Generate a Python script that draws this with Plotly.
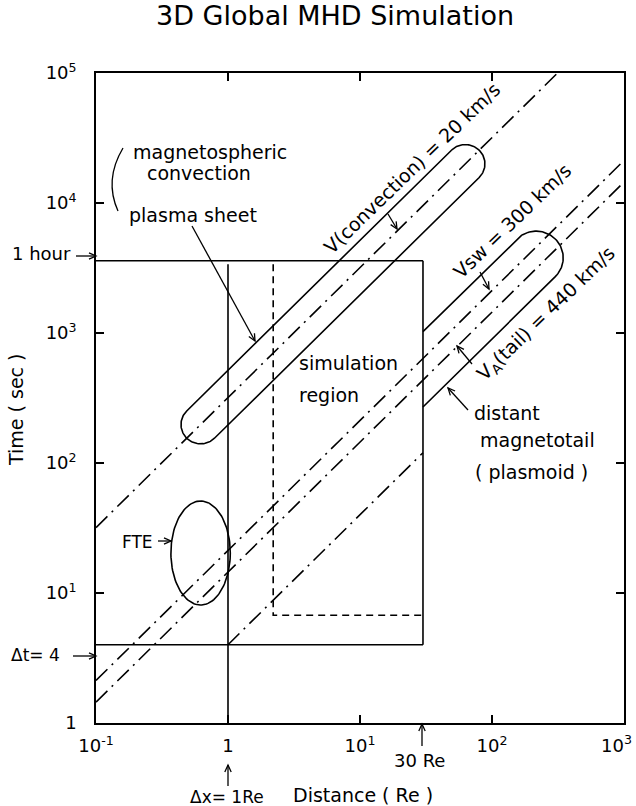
import numpy as np
import plotly.graph_objects as go

FONT = "DejaVu Sans"
RE_KM = 6371.0  # one Earth radius in km

# characteristic speeds (km/s): magnetospheric convection, solar wind, tail Alfven
speeds_kms = [20.0, 300.0, 440.0]

# simulation box
dx_re = 1.0          # grid spacing (Re)
dt_sec = 4.0         # time step (s)
hour_sec = 3600.0    # 1 hour
outer_re = 30.0      # outer boundary (Re)
xmin_re = 0.1
inner_re = 2.2       # dashed inner corner
inner_sec = 6.75

# axis decades (the last x label is placed separately so it stays inside the page)
x_tickvals = [0.1, 1, 10, 100, 1000]
x_ticktext = ["10<sup>-1</sup>", "1", "10<sup>1</sup>", "10<sup>2</sup>", ""]
x_last_label = "10<sup>3</sup>"
y_tickvals = [1, 10, 100, 1000, 1e4, 1e5]
y_ticktext = ["1", "10<sup>1</sup>", "10<sup>2</sup>", "10<sup>3</sup>", "10<sup>4</sup>", "10<sup>5</sup>"]

# outlined regions (cap centres in Re, half-height in decades of time)
conv_caps_re = [0.62, 62.8]
conv_half_dec = 0.21
tail_caps_re = [30.0, 216.0]
tail_half_dec = 0.29
fte_centre = [0.62, 20.3]      # Re, s
fte_half_dec = [0.225, 0.40]   # decades in x, y

# figure geometry
W, H = 636, 806
ML, MR, MT, MB = 96, 12, 73, 83


def pp(x, y):
    """pixel position -> paper coordinates"""
    return (x - ML) / (W - ML - MR), (H - MB - y) / (H - MT - MB)


DASHDOT = "16px,6px,2px,6px"
LW = 1.6
fig = go.Figure()


def add_line(x, y, dash="solid", width=LW):
    fig.add_trace(go.Scatter(x=list(x), y=list(y), mode="lines",
                             line=dict(color="black", width=width, dash=dash),
                             hoverinfo="skip", showlegend=False))


# travel-time lines t = d / v
d_line = np.array([xmin_re, 1000.0])
for v in speeds_kms:
    add_line(d_line, d_line * RE_KM / v, dash=DASHDOT)

# grid-speed line through (dx, dt)
d_cfl = np.array([dx_re, outer_re])
add_line(d_cfl, d_cfl * dt_sec / dx_re, dash=DASHDOT)

# simulation box
add_line([xmin_re, outer_re], [hour_sec, hour_sec])
add_line([xmin_re, outer_re], [dt_sec, dt_sec])
add_line([dx_re, dx_re], [1.0, hour_sec * 0.94])
add_line([outer_re, outer_re], [dt_sec, hour_sec])
add_line([inner_re, inner_re, outer_re], [hour_sec * 0.94, inner_sec, inner_sec], dash="7px,5px")


def stadium(ld0, ld1, c, h, open_left=False):
    w = h / np.sqrt(2)
    A = np.array([ld0, ld0 + c])
    B = np.array([ld1, ld1 + c])
    th_b = np.radians(np.linspace(135, -45, 60))
    th_a = np.radians(np.linspace(315, 135, 60))
    pts = []
    if open_left:
        pts.append([ld0, ld0 + c + h])
    arc_b = np.c_[B[0] + w * np.cos(th_b), B[1] + w * np.sin(th_b)]
    pts.extend(arc_b.tolist())
    if open_left:
        pts.append([ld0, ld0 + c - h])
    else:
        arc_a = np.c_[A[0] + w * np.cos(th_a), A[1] + w * np.sin(th_a)]
        pts.extend(arc_a.tolist())
        pts.append(arc_b[0].tolist())
    pts = np.array(pts)
    return 10 ** pts[:, 0], 10 ** pts[:, 1]


c_conv = np.log10(RE_KM / speeds_kms[0])
c_tail = 0.5 * (np.log10(RE_KM / speeds_kms[1]) + np.log10(RE_KM / speeds_kms[2]))
add_line(*stadium(np.log10(conv_caps_re[0]), np.log10(conv_caps_re[1]), c_conv, conv_half_dec))
add_line(*stadium(np.log10(tail_caps_re[0]), np.log10(tail_caps_re[1]), c_tail, tail_half_dec, open_left=True))

# FTE ellipse
th = np.linspace(0, 2 * np.pi, 120)
add_line(10 ** (np.log10(fte_centre[0]) + fte_half_dec[0] * np.cos(th)),
         10 ** (np.log10(fte_centre[1]) + fte_half_dec[1] * np.sin(th)))

ann = []
shapes = []


def label(text, x, y, size=19, angle=0, xanchor="center"):
    px, py = pp(x, y)
    ann.append(dict(text=text, x=px, y=py, xref="paper", yref="paper", showarrow=False,
                    textangle=angle, xanchor=xanchor, yanchor="middle",
                    font=dict(family=FONT, size=size, color="black")))


def arrow(xh, yh, xt, yt, head=7.0, half=3.2):
    """straight pointer from tail (xt, yt) to head (xh, yh), pixel positions"""
    (ax0, ay0), (ax1, ay1) = pp(xt, yt), pp(xh, yh)
    shapes.append(dict(type="line", xref="paper", yref="paper", x0=ax0, y0=ay0, x1=ax1, y1=ay1,
                       line=dict(color="black", width=1.3)))
    u = np.array([xh - xt, yh - yt], float)
    u /= np.hypot(*u)
    n = np.array([-u[1], u[0]])
    base = np.array([xh, yh]) - u * head
    p1, p2 = base + n * half, base - n * half
    q1, qh, q2 = pp(*p1), pp(xh, yh), pp(*p2)
    shapes.append(dict(type="path", xref="paper", yref="paper",
                       path=f"M {q1[0]} {q1[1]} L {qh[0]} {qh[1]} L {q2[0]} {q2[1]}",
                       line=dict(color="black", width=1.3)))


label("3D Global MHD Simulation", 335, 16, size=27)

label("magnetospheric", 210, 152)
label("convection", 199, 173)
label("plasma sheet", 193, 215)
arrow(255, 341, 192, 226)

label("V(convection) = 20 km/s", 412, 168, angle=-44)
arrow(397, 229, 388, 214)
label("Vsw = 300 km/s", 512, 221, angle=-44)
arrow(489, 289, 480, 272)
label("V<sub>A</sub>(tail) = 440 km/s", 546, 314, angle=-44)
arrow(457, 346, 472, 364)

label("simulation", 348, 363)
label("region", 329, 395)

label("distant", 507, 413)
label("magnetotail", 537, 440)
label("( plasmoid )", 531, 472)
arrow(448, 388, 468, 410)

label("FTE", 137, 542, size=17)
arrow(171, 541, 158, 541)

label("1 hour", 41, 253, size=18)
arrow(96, 256, 76, 256)
label("Δt= 4", 35, 655, size=17)
arrow(96, 656, 73, 656)

label("30 Re", 419, 760, size=18)
arrow(422, 724, 422, 746)
label("Δx= 1Re", 227, 797, size=17)
arrow(228, 765, 228, 786)
label("Distance ( Re )", 363, 795)
label("Time ( sec )", 16, 410, angle=-90)
label(x_last_label, 634, 744, size=18, xanchor="right")

# bracket grouping the convection labels
x0, y0 = pp(123, 148)
xc, yc = pp(104, 180)
x1, y1 = pp(118, 211)
shapes.append(dict(type="path", xref="paper", yref="paper",
                   path=f"M {x0} {y0} Q {xc} {yc} {x1} {y1}",
                   line=dict(color="black", width=1.3)))

axis_common = dict(type="log", showgrid=False, zeroline=False, showline=True, mirror="ticks",
                   linecolor="black", linewidth=1.6, ticks="inside", ticklen=8,
                   tickwidth=1.5, tickcolor="black", automargin=False,
                   tickfont=dict(family=FONT, size=18, color="black"))

fig.update_layout(
    width=W, height=H,
    margin=dict(l=ML, r=MR, t=MT, b=MB),
    paper_bgcolor="white", plot_bgcolor="white",
    xaxis=dict(range=[-1, 3], tickvals=x_tickvals, ticktext=x_ticktext,
               ticklabelstandoff=6, **axis_common),
    yaxis=dict(range=[0, 5], tickvals=y_tickvals, ticktext=y_ticktext,
               ticklabelstandoff=14, **axis_common),
    annotations=ann, shapes=shapes, showlegend=False,
)

fig.write_html("out.html")
